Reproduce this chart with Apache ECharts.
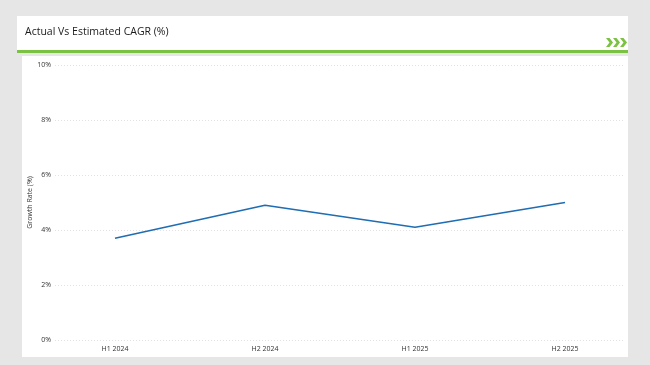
<!DOCTYPE html>
<html><head><meta charset="utf-8">
<script src="https://cdn.jsdelivr.net/npm/echarts@6/dist/echarts.min.js"></script>
<style>html,body{margin:0;padding:0;background:#e6e6e6;}#c{width:650px;height:365px;}</style>
</head><body><div id="c"></div>
<script>
const categories = ['H1 2024', 'H2 2024', 'H1 2025', 'H2 2025'];
const growthValues = [3.7, 4.9, 4.1, 5.0];
const yTicks = [0, 2, 4, 6, 8, 10];
const titleText = 'Actual Vs Estimated CAGR (%)';
const yAxisName = 'Growth Rate (%)';

const chart = echarts.init(document.getElementById('c'), null, {renderer: 'canvas'});
const FONT = '"Open Sans", Lato, sans-serif';
function chevron(x) {
  return {type: 'polygon', shape: {points: [[x,38],[x+3.5,38],[x+7,42.5],[x+3.5,47],[x,47],[x+3.5,42.5]]}, style: {fill: '#7cc242'}};
}
chart.setOption({
  backgroundColor: '#e6e6e6',
  animation: false,
  graphic: [
    {type: 'rect', shape: {x: 17, y: 16, width: 611, height: 36}, style: {fill: '#ffffff'}, z: -10},
    {type: 'rect', shape: {x: 22, y: 56, width: 606, height: 301}, style: {fill: '#ffffff'}, z: -10},
    {type: 'rect', shape: {x: 17, y: 50, width: 611, height: 3}, style: {fill: '#7cc242'}, z: -5},
    {type: 'text', left: 25, top: 27, style: {text: titleText, font: '10.5px ' + FONT, fill: '#1a1a1a'}},
    chevron(606), chevron(613), chevron(620)
  ],
  grid: {left: 55, right: 25, top: 65, bottom: 25},
  xAxis: {
    type: 'value', min: -0.4, max: 3.4,
    splitLine: {show: false}, axisLine: {show: false}, axisTick: {show: false},
    axisLabel: {customValues: [0, 1, 2, 3], formatter: v => categories[Math.round(v)] || '', fontSize: 7, color: '#333', fontFamily: FONT, margin: 5}
  },
  yAxis: {
    type: 'value', min: yTicks[0], max: yTicks[yTicks.length - 1], interval: 2,
    name: yAxisName, nameLocation: 'middle', nameGap: 22, nameRotate: 90, nameMoveOverlap: false,
    nameTextStyle: {fontSize: 7, color: '#333', fontFamily: FONT},
    axisLine: {show: false}, axisTick: {show: false},
    axisLabel: {formatter: '{value}%', fontSize: 7, color: '#333', fontFamily: FONT, margin: 4},
    splitLine: {show: true, lineStyle: {type: [1, 2], color: '#e2e2e2', width: 1}}
  },
  series: [{
    type: 'line',
    data: growthValues.map((v, i) => [i, v]),
    symbol: 'none',
    lineStyle: {color: '#1f6db3', width: 1.6},
    itemStyle: {color: '#1f6db3'}
  }]
});
</script></body></html>
